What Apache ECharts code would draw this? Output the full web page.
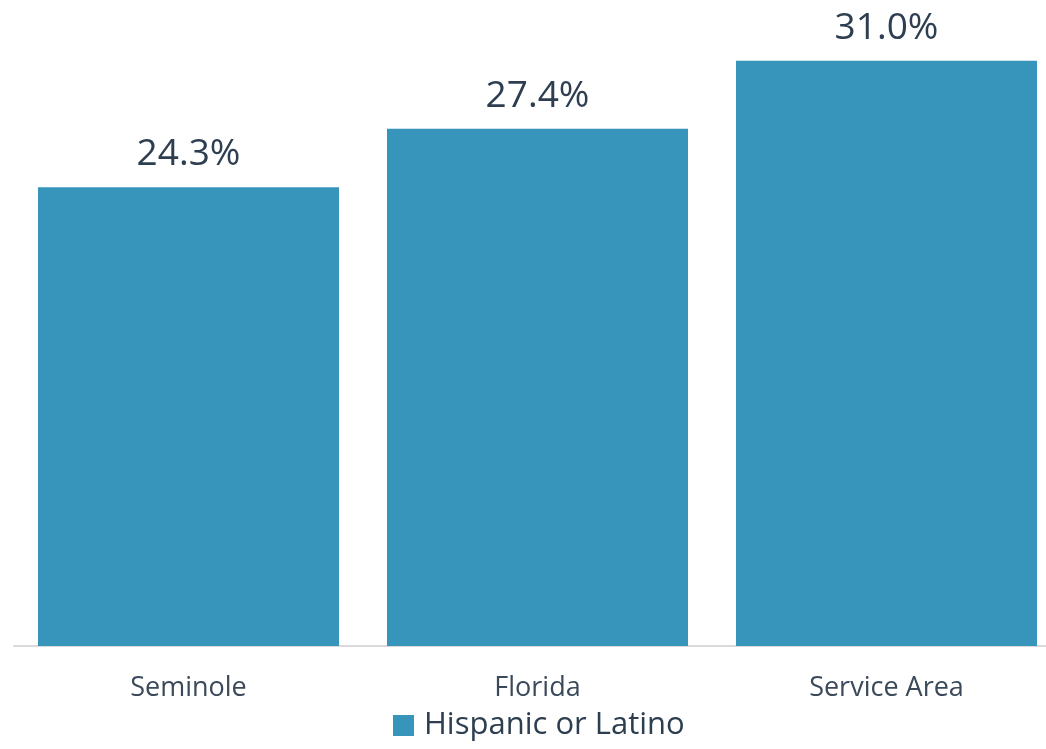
<!DOCTYPE html>
<html>
<head>
<meta charset="utf-8">
<script src="https://cdn.jsdelivr.net/npm/echarts@6/dist/echarts.min.js"></script>
<style>
  html, body { margin: 0; padding: 0; background: #fff; }
  #root { width: 1046px; height: 749px; }
</style>
</head>
<body>
<div id="root"></div>
<script>
var categories = ['Seminole', 'Florida', 'Service Area'];
var hispanicValues = [24.3, 27.4, 31.0];
var seriesName = 'Hispanic or Latino';

var chart = echarts.init(document.getElementById('root'));
var option = {
    animation: false,
    textStyle: { fontFamily: 'Open Sans' },
    grid: {
        left: 14,
        width: 1047,
        top: 23,
        bottom: 103,
        outerBoundsMode: 'none'
    },
    legend: {
        data: [seriesName],
        bottom: 3,
        left: 388,
        itemWidth: 21,
        itemHeight: 21,
        icon: 'rect',
        textStyle: { fontSize: 31, color: '#2d3e50', fontFamily: 'Open Sans', padding: [0, 0, 0, 5] }
    },
    xAxis: {
        type: 'category',
        data: categories,
        axisLine: { lineStyle: { color: '#d9d9d9', width: 2 } },
        axisTick: { show: false },
        axisLabel: { fontSize: 27, color: '#3b4a5a', margin: 29 }
    },
    yAxis: {
        type: 'value',
        min: 0,
        max: 33,
        show: false,
        splitLine: { show: false }
    },
    series: [{
        name: seriesName,
        type: 'bar',
        data: hispanicValues,
        barCategoryGap: '13.75%',
        itemStyle: { color: '#3795bc' },
        label: {
            show: true,
            position: 'top',
            distance: 14,
            fontSize: 37,
            color: '#2d3e50',
            formatter: function (p) { return p.value.toFixed(1) + '%'; }
        }
    }]
};
chart.setOption(option);
</script>
</body>
</html>
